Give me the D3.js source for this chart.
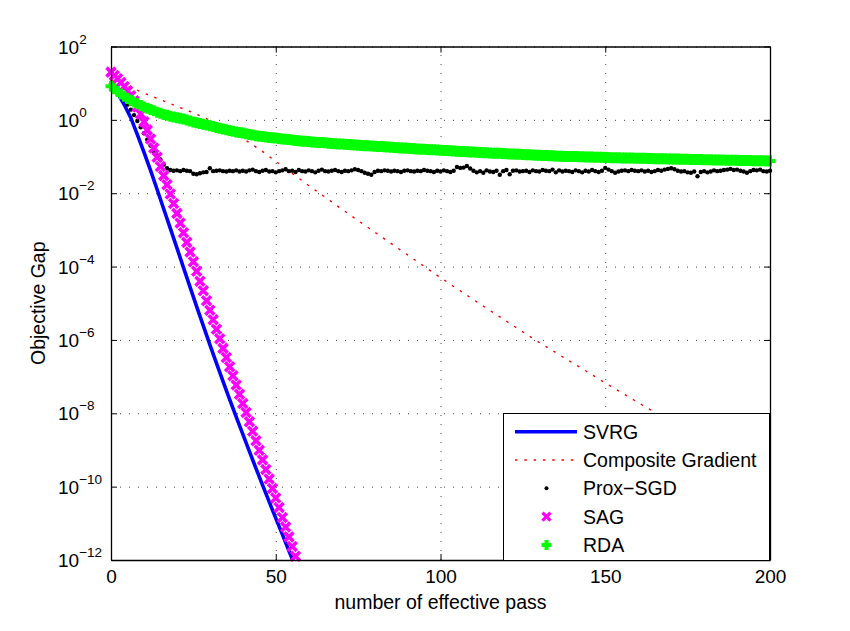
<!DOCTYPE html>
<html>
<head>
<meta charset="utf-8">
<title>Objective Gap</title>
<script src="https://d3js.org/d3.v7.min.js"></script>
<style>
  body { margin: 0; background: #fff; }
  svg text { font-family: "Liberation Sans", Arial, Helvetica, sans-serif; fill: #000; }
</style>
</head>
<body>
<svg id="chart" width="850" height="631"></svg>
<script>
// ---- data ----
const xTicks = [0, 50, 100, 150, 200];
const yExponents = [2, 0, -2, -4, -6, -8, -10, -12];
const legendNames = ["SVRG", "Composite Gradient", "Prox\u2212SGD", "SAG", "RDA"];

// SVRG, every 2 passes
const svrgStep = 2;
const svrgGap = [10, 5.25, 2.63, 1.15, 0.398, 0.132, 0.0417, 0.0126, 3.72e-3, 1.10e-3,
  3.24e-4, 9.33e-5, 2.75e-5, 8.13e-6, 2.45e-6, 7.41e-7, 2.34e-7, 7.41e-8, 2.40e-8, 7.94e-9,
  2.69e-9, 9.12e-10, 3.16e-10, 1.10e-10, 3.89e-11, 1.38e-11, 5.01e-12, 1.78e-12, 6.46e-13];

// Composite gradient
const compPass = [0, 5, 10, 15, 20, 25, 30, 35, 40, 45, 50, 55, 60, 65, 70, 80, 90, 100,
  110, 120, 130, 140, 150, 160, 170, 180, 190, 200];
const compGap = [12.0, 8.32, 5.37, 3.55, 2.34, 1.55, 0.977, 0.562, 0.309, 0.158, 0.0741,
  0.0347, 0.0162, 7.76e-3, 3.72e-3, 8.71e-4, 2.09e-4, 5.01e-5, 1.26e-5, 3.24e-6, 8.51e-7,
  2.40e-7, 6.76e-8, 1.95e-8, 5.75e-9, 1.70e-9, 5.01e-10, 1.45e-10];

// Prox-SGD, every pass
const proxGap = [10, 7.9, 6.3, 4.8, 3.5, 2.6, 1.9, 1.35, 0.93, 0.63, 0.43, 0.29, 0.20, 0.14, 0.107, 0.083, 0.060, 0.048,
  0.043, 0.041, 0.042, 0.040, 0.043, 0.041, 0.040, 0.034, 0.033, 0.035, 0.037, 0.038,
  0.048, 0.040, 0.041, 0.042, 0.040, 0.039, 0.041, 0.040, 0.042, 0.039,
  0.041, 0.039, 0.042, 0.044, 0.040, 0.038, 0.041, 0.043, 0.039, 0.040,
  0.037, 0.040, 0.042, 0.045, 0.040, 0.041, 0.038, 0.043, 0.040, 0.039,
  0.042, 0.040, 0.037, 0.041, 0.044, 0.040, 0.039, 0.041, 0.043, 0.040,
  0.038, 0.041, 0.040, 0.042, 0.045, 0.043, 0.040, 0.036, 0.034, 0.032,
  0.038, 0.041, 0.040, 0.042, 0.041, 0.039, 0.041, 0.040, 0.038, 0.041,
  0.042, 0.040, 0.039, 0.041, 0.040, 0.043, 0.041, 0.040, 0.038, 0.041,
  0.039, 0.042, 0.040, 0.038, 0.041, 0.052, 0.049, 0.050, 0.055, 0.047,
  0.041, 0.037, 0.040, 0.036, 0.042, 0.039, 0.038, 0.041, 0.032, 0.040,
  0.043, 0.033, 0.041, 0.042, 0.039, 0.040, 0.041, 0.038, 0.042, 0.040,
  0.039, 0.043, 0.041, 0.040, 0.044, 0.037, 0.042, 0.039, 0.041, 0.040,
  0.038, 0.042, 0.040, 0.037, 0.041, 0.039, 0.043, 0.040, 0.038, 0.041,
  0.049, 0.044, 0.040, 0.036, 0.039, 0.041, 0.042, 0.040, 0.043, 0.041,
  0.040, 0.042, 0.039, 0.041, 0.038, 0.040, 0.043, 0.041, 0.044, 0.046,
  0.048, 0.045, 0.041, 0.039, 0.040, 0.037, 0.036, 0.039, 0.029, 0.038,
  0.040, 0.037, 0.039, 0.042, 0.040, 0.041, 0.043, 0.044, 0.046, 0.043,
  0.044, 0.041, 0.039, 0.036, 0.040, 0.043, 0.042, 0.044, 0.040, 0.039,
  0.041];

// SAG, every pass
const sagGap = [20, 16.2, 13.2, 10.5, 8.13, 6.17, 4.57, 3.31, 2.24, 1.45,
  0.891, 0.525, 0.302, 0.170, 0.0955, 0.0537, 0.0302, 0.0170, 9.55e-3, 5.25e-3,
  2.82e-3, 1.55e-3, 8.32e-4, 4.57e-4, 2.51e-4, 1.35e-4, 7.41e-5, 3.98e-5, 2.19e-5, 1.17e-5,
  6.46e-6, 3.55e-6, 1.95e-6, 1.07e-6, 5.89e-7, 3.31e-7, 1.86e-7, 1.05e-7, 5.89e-8, 3.31e-8,
  1.86e-8, 1.05e-8, 5.89e-9, 3.24e-9, 1.78e-9, 9.77e-10, 5.37e-10, 2.95e-10, 1.62e-10, 8.91e-11,
  4.90e-11, 2.69e-11, 1.45e-11, 7.94e-12, 4.27e-12, 2.34e-12, 1.26e-12];

// RDA, every pass
const rdaGap = [8.3, 7.0, 5.9, 5.1, 4.4, 3.85, 3.4, 3.05, 2.75, 2.48,
  2.24, 2.07, 1.91, 1.76, 1.62, 1.51, 1.41, 1.33, 1.26, 1.20,
  1.15, 1.10, 1.05, 0.99, 0.93, 0.88, 0.83, 0.79, 0.76, 0.72,
  0.69, 0.655, 0.62, 0.59, 0.56, 0.535, 0.51, 0.49, 0.47, 0.455,
  0.44, 0.42, 0.40, 0.385, 0.37, 0.36, 0.35, 0.34, 0.33, 0.325,
  0.32, 0.31, 0.30, 0.295, 0.29, 0.282, 0.275, 0.269, 0.263, 0.260,
  0.257, 0.251, 0.245, 0.242, 0.240, 0.236, 0.232, 0.228, 0.224, 0.221,
  0.219, 0.216, 0.214, 0.210, 0.207, 0.203, 0.200, 0.198, 0.196, 0.194,
  0.192, 0.189, 0.187, 0.184, 0.182, 0.179, 0.177, 0.174, 0.172, 0.170,
  0.168, 0.165, 0.163, 0.161, 0.159, 0.157, 0.155, 0.153, 0.152, 0.150,
  0.148, 0.1465, 0.145, 0.143, 0.141, 0.1395, 0.138, 0.1365, 0.135, 0.1335,
  0.132, 0.1305, 0.129, 0.1275, 0.126, 0.1245, 0.123, 0.1225, 0.122, 0.1205,
  0.119, 0.118, 0.117, 0.116, 0.115, 0.1135, 0.112, 0.111, 0.110, 0.109,
  0.108, 0.107, 0.106, 0.1055, 0.105, 0.1035, 0.102, 0.1015, 0.101, 0.1005,
  0.100, 0.0995, 0.0989, 0.0983, 0.0977, 0.0972, 0.0966, 0.0961, 0.0955, 0.0950,
  0.0944, 0.0939, 0.0933, 0.0928, 0.0923, 0.0918, 0.0912, 0.0909, 0.0906, 0.0901,
  0.0897, 0.0894, 0.0891, 0.0886, 0.0881, 0.0876, 0.0871, 0.0868, 0.0865, 0.0861,
  0.0857, 0.0854, 0.0851, 0.0846, 0.0841, 0.0838, 0.0836, 0.0832, 0.0828, 0.0825,
  0.0822, 0.0817, 0.0813, 0.0810, 0.0807, 0.0803, 0.0800, 0.0797, 0.0794, 0.0790,
  0.0787, 0.0784, 0.0782, 0.0778, 0.0774, 0.0771, 0.0769, 0.0766, 0.0764, 0.0761,
  0.0759];

// ---- chart ----
const svg = d3.select('#chart');
const margin = {top: 46.5, right: 80, bottom: 71, left: 111};
const width = 850 - margin.left - margin.right;
const height = 631 - margin.top - margin.bottom;

const g = svg.append('g')
  .attr('transform', `translate(${margin.left},${margin.top})`);

const x = d3.scaleLinear().domain([0, 200]).range([0, width]);
const y = d3.scaleLog().domain([1e-12, 1e2]).range([height, 0]);
const yTicks = yExponents.map(e => Math.pow(10, e));

// dotted grid
g.append('g')
  .attr('transform', `translate(0,${height})`)
  .call(d3.axisBottom(x).tickValues(xTicks).tickSize(-height).tickFormat(''))
  .call(a => a.select('.domain').remove())
  .selectAll('line').attr('stroke', '#444').attr('stroke-dasharray', '1,8');
g.append('g')
  .call(d3.axisLeft(y).tickValues(yTicks).tickSize(-width).tickFormat(''))
  .call(a => a.select('.domain').remove())
  .selectAll('line').attr('stroke', '#444').attr('stroke-dasharray', '1,8');

g.append('clipPath').attr('id', 'plotClip')
  .append('rect').attr('width', width).attr('height', height);

const line = d3.line().x(d => x(d[0])).y(d => y(d[1]));
const smoothLine = d3.line().x(d => x(d[0])).y(d => y(d[1])).curve(d3.curveMonotoneX);

const svrgData = svrgGap.map((v, i) => [i * svrgStep, v]);
const compData = compPass.map((p, i) => [p, compGap[i]]);
const proxData = proxGap.map((v, i) => [i, v]);
const sagData = sagGap.map((v, i) => [i, v]);
const rdaData = rdaGap.map((v, i) => [i, v]);

const plot = g.append('g').attr('clip-path', 'url(#plotClip)');

// SVRG
plot.append('path').datum(svrgData)
  .attr('d', line).attr('fill', 'none')
  .attr('stroke', '#0000ff').attr('stroke-width', 3.6);

// Composite gradient
plot.append('path').datum(compData)
  .attr('d', smoothLine).attr('fill', 'none')
  .attr('stroke', '#ff0000').attr('stroke-width', 1.4)
  .attr('stroke-dasharray', '2.5,6.8');

// Prox-SGD
g.append('g').selectAll('circle')
  .data(proxData).enter().append('circle')
  .attr('cx', d => x(d[0])).attr('cy', d => y(d[1]))
  .attr('r', 2.2).attr('fill', '#000');

const crossPath = 'M-4.5,-4.5L4.5,4.5M-4.5,4.5L4.5,-4.5';
const plusPath = 'M-5.5,0H5.5M0,-5.5V5.5';

// SAG
g.append('g').selectAll('path')
  .data(sagData).enter().append('path')
  .attr('transform', d => `translate(${x(d[0])},${y(d[1])})`)
  .attr('d', crossPath).attr('stroke', '#ff00ff')
  .attr('stroke-width', 3.6).attr('fill', 'none');

// RDA
g.append('g').selectAll('path')
  .data(rdaData).enter().append('path')
  .attr('transform', d => `translate(${x(d[0])},${y(d[1])})`)
  .attr('d', plusPath).attr('stroke', '#00ff00')
  .attr('stroke-width', 4).attr('fill', 'none');

// axes box with inward ticks
const tickLen = 6;
g.append('g').attr('transform', `translate(0,${height})`)
  .call(d3.axisBottom(x).tickValues(xTicks).tickSizeInner(-tickLen).tickSizeOuter(0).tickPadding(10))
  .call(a => a.selectAll('text').attr('font-size', 19).attr('font-family', '"Liberation Sans", Arial, sans-serif'));
g.append('g')
  .call(d3.axisTop(x).tickValues(xTicks).tickSizeInner(-tickLen).tickSizeOuter(0).tickFormat(''));
g.append('g')
  .call(d3.axisLeft(y).tickValues(yTicks).tickSizeInner(-tickLen).tickSizeOuter(0).tickFormat(''));
g.append('g').attr('transform', `translate(${width},0)`)
  .call(d3.axisRight(y).tickValues(yTicks).tickSizeInner(-tickLen).tickSizeOuter(0).tickFormat(''));
g.selectAll('.domain').attr('stroke', '#000').attr('stroke-width', 1.3);
g.selectAll('.tick line').filter(function () { return !this.getAttribute('stroke-dasharray'); })
  .attr('stroke', '#000');

// y tick labels: 10 with superscript exponent
const yLab = g.append('g');
yExponents.forEach(e => {
  const t = yLab.append('text')
    .attr('x', -53).attr('y', y(Math.pow(10, e)) + 7)
    .attr('font-size', 19);
  t.append('tspan').text('10');
  t.append('tspan').attr('dy', -10).attr('font-size', 13.5)
    .text(e < 0 ? '\u2212' + (-e) : String(e));
});

// axis titles
svg.append('text')
  .attr('x', margin.left + width / 2).attr('y', 609)
  .attr('text-anchor', 'middle').attr('font-size', 19.5)
  .text('number of effective pass');
svg.append('text')
  .attr('transform', `translate(45,${margin.top + height / 2}) rotate(-90)`)
  .attr('text-anchor', 'middle').attr('font-size', 19.5)
  .text('Objective Gap');

// legend
const lg = svg.append('g');
lg.append('rect')
  .attr('x', 503.5).attr('y', 413.5).attr('width', 266).attr('height', 147)
  .attr('fill', '#fff').attr('stroke', '#000').attr('stroke-width', 1);
const rowY = [431.7, 460, 488.3, 516.7, 545];
lg.append('line').attr('x1', 515).attr('x2', 577).attr('y1', rowY[0]).attr('y2', rowY[0])
  .attr('stroke', '#0000ff').attr('stroke-width', 3.6);
lg.append('line').attr('x1', 515).attr('x2', 577).attr('y1', rowY[1]).attr('y2', rowY[1])
  .attr('stroke', '#ff0000').attr('stroke-width', 1.4).attr('stroke-dasharray', '2.5,6.8');
lg.append('circle').attr('cx', 546.5).attr('cy', rowY[2]).attr('r', 2).attr('fill', '#000');
lg.append('path').attr('transform', `translate(546.5,${rowY[3]})`)
  .attr('d', 'M-4,-4L4,4M-4,4L4,-4').attr('stroke', '#ff00ff').attr('stroke-width', 3.2);
lg.append('path').attr('transform', `translate(546.5,${rowY[4]})`)
  .attr('d', 'M-5,0H5M0,-5V5').attr('stroke', '#00ff00').attr('stroke-width', 4);
lg.selectAll('text.name').data(legendNames).enter().append('text')
  .attr('class', 'name')
  .attr('x', 583).attr('y', (d, i) => rowY[i] + 7)
  .attr('font-size', 19.5)
  .text(d => d);
</script>
</body>
</html>
